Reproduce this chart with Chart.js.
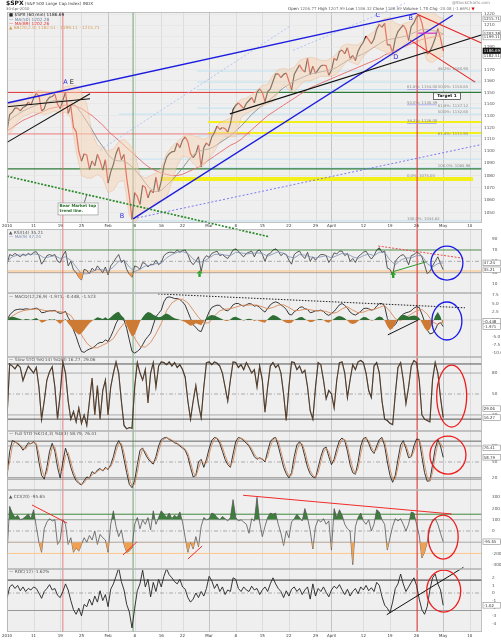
<!DOCTYPE html>
<html>
<head>
<meta charset="utf-8">
<title>$SPX 60 min</title>
<script src="https://cdn.jsdelivr.net/npm/chart.js@4/dist/chart.umd.min.js"></script>
<style>
html, body { margin: 0; padding: 0; background: #fff; }
#wrap { position: relative; width: 501px; height: 640px; overflow: hidden; font-family: "DejaVu Sans", Verdana, sans-serif; }
#spx { position: absolute; left: 0; top: 0; }
.t { position: absolute; white-space: nowrap; line-height: 1; color: #444; font-size: 4px; }
</style>
</head>
<body>
<div id="wrap">
<canvas id="spx" width="501" height="640"></canvas>
<div class="t" style="left:6px;top:0px;font-size:4.2px"><b style="font-size:6px;color:#111">$SPX</b> (S&amp;P 500 Large Cap Index) INDX</div>
<div class="t" style="left:6px;top:7px;color:#666;font-size:3.8px">30-Apr-2010</div>
<div class="t" style="left:288px;top:6.5px">Open <span style="color:#777">1206.77</span> High <span style="color:#777">1207.99</span> Low <span style="color:#777">1186.32</span> Close <span style="color:#777">1186.69</span> Volume <span style="color:#777">1.7B</span> Chg <span style="color:#777">-20.08 (-1.66%)</span> <span style="color:#d00">&#9660;</span></div>
<div class="t" style="left:452px;top:1px;color:#888">@StockCharts.com</div>
</div>
<script>
// time axis: trading-day index, 4 Jan 2010 = 0
const dateTicks = [0, 5, 10, 14, 19, 24, 29, 33, 38, 43, 48, 53, 58, 61, 67, 72, 77, 82, 87];
const dateLabels = ['2010', '11', '19', '25', 'Feb', '8', '16', '22', 'Mar', '8', '15', '22', '29', 'April', '12', '19', '26', 'May', '10'];
const monthLabels = ['2010', 'Feb', 'Mar', 'April', 'May'];

// 60 min price, two readings per day
const price = [1117,1131,1133,1136.5,1136.5,1134,1137,1138,1141.7,1139,
  1145,1149,1147,1134,1136,1143,1145.7,1146.5,1148.5,1140,
  1136,1143,1150.2,1132,1138,1120,1116.5,1100,1091.8,1098,
  1096.8,1085,1092,1088,1097.5,1092,1084.5,1093,1073.9,1083,
  1089.2,1098,1103.3,1093,1097.3,1078,1063.1,1045,1066.2,1063,
  1056.7,1072,1070.5,1062,1068.1,1066,1078.5,1067,1075.5,1088,
  1094.9,1098,1099.5,1100,1106.8,1103,1109.2,1112,1108,1098,
  1094.6,1098,1105.2,1087,1102.9,1107,1104.5,1112,1115.7,1121,
  1118.3,1120,1118.8,1116,1123,1135,1138.7,1141,1138.5,1136,
  1140.5,1143,1145.6,1141,1150.2,1153,1150,1142,1150.5,1153,
  1159.5,1166,1166.2,1163,1165.8,1167,1159.9,1152,1165.8,1170,
  1174.2,1170,1167.7,1180,1165.7,1173,1166.6,1170,1173.2,1174,
  1173.3,1165,1169.4,1180,1178.1,1186,1187.4,1184,1189.4,1180,
  1182.5,1178,1186.4,1191,1194.4,1200,1196.5,1193,1197.3,1206,
  1210.7,1208,1211.7,1192,1192.1,1185,1197.5,1204,1207.2,1210,
  1205.9,1196,1208.7,1212,1217.3,1219,1212,1200,1183.7,1186,
  1191.4,1198,1206.8,1198,1186.7];

// overlays, one reading per day
const ma50 = [1124,1128,1131,1134,1136,1138,1140,1141,1142,1143,
  1143,1143,1142,1138,1132,1125,1118,1110,1104,1097,
  1093,1092,1092,1089,1085,1080,1074,1069,1067,1068,
  1072,1076,1081,1086,1092,1097,1100,1101,1102,1104,
  1107,1110,1113,1117,1121,1126,1131,1135,1139,1142,
  1146,1150,1154,1157,1160,1162,1164,1166,1167,1168,
  1169,1170,1172,1175,1178,1180,1182,1184,1187,1190,
  1193,1196,1197,1198,1199,1200,1202,1204,1206,1206,
  1205,1204,1202];
const ma89 = [1117,1120,1123,1126,1128,1130,1132,1134,1136,1137,
  1138,1139,1139,1138,1136,1133,1130,1126,1122,1117,
  1113,1109,1105,1101,1097,1093,1089,1086,1084,1082,
  1081,1080,1080,1081,1083,1085,1087,1090,1093,1096,
  1099,1102,1105,1107,1110,1114,1118,1122,1126,1130,
  1133,1136,1139,1142,1145,1148,1151,1154,1156,1158,
  1160,1162,1164,1166,1168,1170,1172,1174,1176,1178,
  1180,1183,1185,1187,1189,1191,1193,1195,1197,1198,
  1199,1200,1202];
const bbUpper = [1140,1141,1142,1143,1146,1150,1152,1151,1150,1151,
  1152,1155,1156,1156,1150,1140,1115,1105,1103,1100,
  1102,1108,1110,1106,1100,1080,1078,1080,1082,1086,
  1098,1104,1108,1112,1114,1113,1112,1110,1112,1118,
  1124,1126,1128,1140,1144,1145,1148,1152,1156,1157,
  1165,1170,1171,1170,1172,1178,1180,1181,1180,1178,
  1178,1180,1184,1191,1193,1192,1192,1196,1201,1204,
  1213,1216,1217,1212,1210,1212,1213,1219,1222,1224,
  1222,1218,1216];
const bbLower = [1112,1118,1125,1129,1131,1133,1132,1131,1132,1134,
  1132,1133,1128,1100,1080,1078,1078,1081,1078,1066,
  1068,1075,1076,1048,1042,1048,1052,1054,1058,1060,
  1062,1075,1088,1096,1095,1090,1086,1088,1094,1100,
  1108,1112,1112,1112,1128,1132,1134,1136,1138,1140,
  1142,1150,1157,1152,1150,1156,1160,1160,1162,1164,
  1164,1164,1166,1172,1178,1176,1174,1182,1186,1190,
  1188,1186,1182,1183,1188,1194,1196,1198,1190,1178,
  1176,1180,1182];

// indicators, two readings per day unless noted
const rsi = [45,62,60,64,61,58,63,60,64,61,
  66,67,60,45,52,60,62,60,62,50,
  48,60,68,42,50,35,30,22,17,36,
  34,28,38,33,42,36,30,40,26,42,
  48,56,62,48,52,36,27,22,42,40,
  36,48,46,40,45,44,52,44,48,60,
  64,66,66,65,70,66,69,70,62,50,
  44,50,58,32,54,60,57,64,66,68,
  60,62,58,55,62,70,72,68,62,58,
  64,66,68,58,68,70,62,50,62,64,
  70,72,68,60,64,62,52,45,62,66,
  68,60,55,66,50,58,52,58,62,62,
  60,48,55,65,63,68,68,60,64,50,
  55,48,58,62,66,68,60,54,60,70,
  74,66,68,38,36,26,50,56,60,62,
  56,44,60,62,66,64,58,44,28,32,
  42,50,58,46,35.21];
const rsiMa = [50,58,61,61,62,63,62,56,58,60,
  55,58,52,40,28,28,32,36,35,33,
  40,50,52,40,32,36,42,43,46,47,
  56,62,66,67,64,54,48,50,56,62,
  63,61,60,66,65,63,64,65,64,59,
  63,67,64,58,56,62,61,58,56,58,
  60,56,60,64,63,58,55,60,63,60,
  66,66,52,44,52,56,56,60,60,46,
  40,46,47.24];
const macd = [0,1.5,2.4,3,3.2,3.3,3.2,3.4,3.3,3.2,
  3.4,3.6,3.2,2.2,2.3,2.6,2.8,2.8,2.9,2.3,
  2,2.2,2.6,0.8,-0.6,-3,-5,-7.5,-9.5,-9.8,
  -9.2,-8.8,-8.5,-8,-7.2,-6.8,-6.8,-6,-6.5,-5,
  -3.2,-1,0.4,0.2,0,-2.5,-6,-9.5,-10,-9.5,
  -8.8,-7.5,-6,-5,-4,-1.5,1,2,3,5.5,
  6.8,7,6.8,6.5,6.5,6.2,5.5,4.5,2.5,0.5,
  -1.5,-2.2,-3.2,-3.5,-1.5,0.5,2.5,3.8,4.2,4.5,
  4.4,3.6,3,2.8,3.5,4.6,5,5,4.5,4.2,
  4.6,5,4.8,4.2,4.4,3.8,3,2.4,3.5,4.6,
  5.2,5.5,5.2,4.6,4,3.2,1.8,1.5,2.5,3,
  3.8,4,3.4,3.2,2.2,2.4,2.8,2.8,3,2.6,
  1.8,1.4,2,2.6,3.6,4.6,5,4.4,3.6,2.4,
  1.8,1.5,2,2.6,3.4,3.6,3.4,3,3.2,4.2,
  5,5,4.2,0.5,-1,-2,-1.4,0,1,1.8,
  2.2,2.4,2.8,3.6,4,3.8,1.8,-0.5,-3,-4.2,
  -4,-3,-1.2,-0.8,-1.971];
const macdSignal = [0,1.2,2.2,2.8,3.1,3.3,3.3,2.9,2.7,2.7,
  2.5,2.3,1.4,-1,-4.5,-7,-8.4,-8.4,-7.6,-6.8,
  -5.6,-3,-1,-2.2,-5.5,-8,-8.2,-6.8,-4.2,-1,
  2.8,5.2,6.2,6.3,5.2,3,0.8,-1,-0.8,1.2,
  2.8,3.3,3.4,3.9,4.4,4.5,4.6,4.5,4,3.4,
  3.8,4.5,4.6,3.8,2.8,2.9,3.3,3.1,2.8,2.8,
  2.6,2,2.3,3.4,4,3,2.2,2.4,3,3.2,
  3.8,4.4,2.6,0.4,-0.2,0.8,1.8,2.8,3.2,1.8,
  -0.6,-1.4,-0.448];
const macdHist = [0,0.8,1,0.8,0.5,0.3,0,0.3,0.2,0,
  0.3,0.6,0,-0.8,-0.5,-0.1,0.2,0.1,0.2,-0.5,
  -1.2,-0.4,0.3,-1,-2,-3,-3.8,-4.5,-4,-3,
  -2,-1,-0.3,0.3,0.8,0.6,0.3,0.8,0.2,0.8,
  1.6,2.2,2.5,1.4,0.6,-1.5,-3.5,-5,-4.5,-2.5,
  -0.5,0.8,1.8,2.4,2.2,1.6,1.2,0.8,1,1.6,
  2,1.6,1,0.5,0.3,0.1,-0.3,-0.6,-1.2,-1.7,
  -1.5,-1,-1.3,-1.6,-0.4,0.6,1.2,1.5,1.4,1,
  0.6,0.2,-0.2,-0.3,0.2,0.8,1,0.6,0.2,-0.2,
  0.2,0.4,0.2,-0.3,0,-0.4,-0.6,-0.8,0.2,1,
  1.5,1.3,0.8,0.2,-0.4,-0.8,-1,-0.8,0,0.4,
  0.8,0.9,0.3,-0.2,-0.7,-0.5,-0.1,0.2,0.3,0,
  -0.6,-0.8,-0.2,0.4,1,1.2,1,0.5,-0.2,-1,
  -1.2,-1,-0.4,0.4,0.9,0.8,0.3,-0.2,0,0.7,
  1.1,0.8,-0.2,-2,-3,-2.6,-1,0.4,1.3,1.6,
  1.4,1,1.2,1.4,1.2,0.6,-0.8,-2.4,-3.4,-2.8,
  -1,1.2,2.4,1,-1.523];
const slowK = [16,93,90,86,92,88,69,80,90,85,
  80,88,60,14,40,70,82,89,60,14,
  50,96,80,40,14,25,10,30,8,20,
  5,40,73,20,62,14,55,70,20,60,
  80,96,80,40,5,0,2,1,60,95,
  80,70,85,37,80,95,60,90,96,95,
  92,96,90,95,88,92,85,74,40,14,
  40,62,35,16,60,95,96,92,96,94,
  90,80,60,40,70,96,95,88,92,85,
  95,88,80,85,60,90,70,24,60,90,
  95,88,92,80,50,12,60,96,95,85,
  90,80,84,60,26,14,60,95,92,70,
  43,55,50,30,70,95,96,80,45,70,
  92,85,96,98,95,80,55,45,90,95,
  80,40,14,12,8,6,50,88,95,70,
  36,60,90,98,95,70,20,14,12,10,
  70,95,80,45,16.27];
const fullK = [22,70,90,88,84,80,72,78,86,84,
  88,82,50,25,18,40,70,85,70,40,
  20,50,76,60,40,25,15,10,7,15,
  22,20,32,28,35,38,33,40,36,45,
  60,80,90,80,55,30,8,2,15,45,
  72,76,65,56,50,46,60,80,92,95,
  96,92,90,86,84,80,76,72,60,40,
  22,25,50,55,40,55,75,90,96,94,
  85,70,55,45,40,65,88,96,94,90,
  85,80,70,60,55,58,55,50,70,88,
  94,96,80,60,40,28,20,30,60,82,
  88,80,60,40,28,22,20,40,60,75,
  78,60,45,55,75,90,95,90,70,45,
  30,27,50,80,94,96,85,72,66,80,
  92,96,80,50,25,12,25,55,82,90,
  75,58,60,80,93,92,60,30,14,15,
  45,75,92,80,58.79];
const fullD = [30,50,80,88,86,82,76,74,82,85,
  86,85,66,38,22,30,55,78,78,55,
  30,35,62,68,50,32,20,12,8,11,
  18,21,26,30,32,36,35,37,38,41,
  52,70,85,85,68,42,18,5,8,30,
  58,74,70,60,53,48,53,70,86,93,
  95,94,91,88,85,82,78,74,66,50,
  31,23,38,52,48,48,65,82,93,95,
  90,78,62,50,42,52,76,92,95,92,
  88,82,75,65,58,56,56,52,60,79,
  91,95,88,70,50,34,24,25,45,71,
  85,84,70,50,34,25,21,30,50,68,
  76,69,52,50,65,82,92,92,80,58,
  38,28,38,65,87,95,90,78,69,73,
  86,94,88,65,38,18,18,40,68,86,
  82,66,59,70,86,92,76,45,22,14,
  30,60,84,86,76.41];
const cci = [-200,220,160,120,140,100,110,130,150,110,
  190,40,-100,-190,20,80,110,90,100,-120,
  -80,100,60,-120,-60,-190,-150,-180,-120,-60,
  -100,-40,-80,0,-120,-30,-60,-80,-190,60,
  180,40,-50,10,-120,-190,-180,-150,60,120,
  20,100,60,120,10,180,60,120,180,150,
  120,160,110,140,120,170,80,-60,-190,-100,
  -160,-50,-140,40,120,100,110,160,150,120,
  100,130,110,90,120,280,120,90,100,80,
  60,-20,110,90,300,80,-50,40,120,160,
  150,160,60,-20,-130,0,-60,80,110,150,
  120,90,200,120,0,-160,40,100,80,110,
  60,90,-170,200,120,190,140,60,20,0,
  -300,40,120,160,90,60,100,0,60,190,
  170,100,60,-170,-60,40,110,90,110,60,
  0,60,170,160,60,-40,-240,-190,-100,20,
  100,110,60,-20,-95.65];
const roc = [-0.7,0.8,1.1,0.6,1,0.3,0.8,0.2,0.6,0.4,
  0.8,0.6,0,-0.7,0.2,0.6,1.1,0.4,0.6,-0.3,
  -0.6,0.2,1.2,0.4,-1,-2.2,-2.8,-2,-3,-1.5,
  -1.8,-0.8,-1.6,-0.4,-1.2,0.3,-1,-0.2,-1.8,0.5,
  1.2,2.2,3.3,1.5,0.4,-1.5,-2.5,-4.6,-2,0.3,
  1.2,3,0.8,1.8,-0.5,1.4,0.2,1.8,0.8,2.2,
  3.2,2.4,2,1.5,1.2,1.8,0.8,0.5,-0.6,-1.2,
  -0.8,0,-0.6,0.2,-0.4,0.6,2.2,1.6,0.6,1.2,
  0.2,0.8,-0.2,0.4,0.2,2,1.8,0.6,0.2,0.8,
  0.4,0.2,0.9,0.4,0.6,-0.2,0.4,0.8,0.2,1.2,
  2,1.2,0.6,0.2,-0.6,0.3,-0.4,0.5,0.8,0.2,
  0.6,-0.2,0.4,0.8,-0.8,1.2,-0.4,0.6,0.2,0.8,
  0.1,-0.5,0.4,0.9,0.6,1.1,0.4,-0.2,0.5,-0.4,
  0.2,0.6,-0.1,0.8,0.4,1,0.3,0.7,0.2,1.4,
  1,-0.5,-1.6,-2,-2.6,-1.2,0.6,1.2,2.5,1.2,
  0.2,0.8,1.4,2,1,-0.8,-2.2,-2.8,-1.8,0.4,
  2,2.5,1.2,0.4,-1.62];

// axis ticks
const priceTicks = [1050,1060,1070,1080,1090,1100,1110,1120,1130,1140,1150,1160,1170,1180,1190,1200,1210,1220];
const rsiTicks = [10, 30, 50, 70, 90];
const macdTicks = [-10, -7.5, -5, -2.5, 0, 2.5, 5, 7.5];
const stoTicks = [20, 50, 80];
const cciTicks = [-300, -200, -100, 0, 100, 200, 300];
const rocTicks = [-4, -3, -2, -1, 0, 1, 2];

// reference levels per panel
const rsiLevels = [70, 50, 33, 30];
const macdLevels = [0];
const slowLevels = [93, 80, 50, 20, 14];
const fullLevels = [89, 80, 50, 21, 18];
const cciLevels = [150, 100, 0, -100, -200];
const rocLevels = [1.7, 0, -2.3];

// main panel drawings: [day, price]
const blueTrend = [[[0, 1140.8], [77.1, 1221]], [[23.7, 1045.3], [83.8, 1219]]];
const blueChannel = [[[23.7, 1045.3], [89.3, 1105.7]]];
const lightBlueTrend = [[[17.5, 1100.9], [53.2, 1209]], [[53.8, 1187.2], [74.8, 1230]]];
const blackTrend = [[[0, 1107.4], [15.6, 1148.8]], [[0, 1137.6], [15.6, 1144.5]], [[41.9, 1131.5], [89.3, 1201.2]]];
const redTrend = [[[77.1, 1220], [89.3, 1193.5]], [[75.8, 1196.3], [88, 1159]]];
const bearTrend = [[0, 1079.5], [49.1, 1031.4]];
const bearPointer = [[14.5, 1057.9], [15, 1064.4]];
const maMarker = [[77.3, 1202.6], [80.8, 1202.6]];
const redLevels = [[1150, 0, 47], [1114.5, 0, 45.7]];
const greenLevels = [[1150, 47, 89.3], [1085.4, 0, 89.3]];
const yellowLevels = [[1124.6, 37.8, 89.3], [1115.3, 37.8, 89.3]];
const yellowBand = [1077.3, 28.8, 87.6];
const fibLines = [[1168.7, 35.7], [1159, 35.7], [1152.5, 35.7], [1136.4, 35.7], [1131.3, 21], [1112.8, 35.7], [1093.5, 23], [1086.2, 35.7], [1043.7, 23.7]];
const fibLabels = [
  ['38.2%: 1160.90', 1168.7, 81], ['61.8%: 1154.00', 1152.5, 75.2], ['50.0%: 1150.65', 1152.5, 81],
  ['50.0%: 1140.39', 1139.3, 75.2], ['61.8%: 1137.12', 1136.4, 81], ['50.0%: 1132.60', 1131.3, 81],
  ['38.2%: 1126.00', 1123.3, 75.2], ['61.8%: 1111.95', 1112.8, 81], ['100.0%: 1085.98', 1086.2, 81],
  ['0.0%: 1075.00', 1078, 75.2], ['100.0%: 1044.82', 1043.7, 75.2]];
const fibUnderlines = [1152.5, 1139.3, 1123.3];
const waveLabels = [['A', 11.0, 1158.4], ['E', 12.2, 1158.4], ['B', 21.6, 1047], ['C', 69.7, 1219], ['B', 75.9, 1216.6], ['D', 73.1, 1181]];
const targetBox = ['Target 1', 82.7, 1146.8];
const bearNote = [['Bear Market top', 'trend line.'], 9.6, 1057.9];
const markerDays = [10.5, 23.7, 77.1];

// indicator drawings: [day, value]
const rsiRedTrend = [[69.8, 77], [85.8, 55.4]];
const rsiGreenTrend = [[72.6, 31.8], [78.9, 49.4]];
const rsiArrows = [[36.2, 34], [72.6, 32]];
const macdDotted = [[28.4, 7.9], [86.1, 3.7]];
const macdSupport = [[71.6, -4.5], [77.3, 0]];
const cciRedTrends = [[[4.7, 232], [11.3, 71]], [[21.8, -214], [24.4, -98]], [[34, -250], [36.7, -134]], [[44.4, 319], [83.6, 152]]];
const rocSupport = [[71.4, -2.85], [85.8, 3.38]];
const circleCenters = { rsi: [82.7, 47], macd: [82.7, -0.3], slow: [83.6, 47], full: [82.9, 63], cci: [82, -54], roc: [82.1, 0.26] };

// right-axis value flags
const priceFlags = [1215.71, 1202.28, 1199.11, 1182.51];
const closeFlag = 1186.69;
const rsiFlags = [47.24, 35.21];
const macdFlags = [-0.448, -1.971];
const slowFlags = [29.06, 16.27];
const fullFlags = [76.41, 58.79];
const cciFlags = [-95.65];
const rocFlags = [-1.62];

const FONTNAME = '"DejaVu Sans", Verdana, sans-serif';
const panelIds = ['y', 'rsi', 'macd', 'slow', 'full', 'cci', 'roc'];

function font(size, bold) { return (bold ? 'bold ' : '') + size + 'px ' + FONTNAME; }
function line(ctx, x0, y0, x1, y1) { ctx.beginPath(); ctx.moveTo(x0, y0); ctx.lineTo(x1, y1); ctx.stroke(); }
function pts(arr, step) { return arr.map((v, i) => ({ x: i * step, y: v })); }

const overlay = {
    id: 'overlay',
    beforeDraw(chart) {
        const { ctx, chartArea: a, scales } = chart;
        const X = scales.x;
        ctx.save();
        panelIds.forEach(id => {
            const s = scales[id];
            ctx.fillStyle = '#efefef';
            ctx.fillRect(a.left, s.top, a.right - a.left, s.bottom - s.top);
            ctx.lineWidth = 1;
            dateTicks.forEach((d, i) => {
                const x = Math.round(X.getPixelForValue(d)) + 0.5;
                ctx.strokeStyle = monthLabels.includes(dateLabels[i]) ? '#c4c4c4' : '#dcdcdc';
                line(ctx, x, s.top, x, s.bottom);
            });
        });
        ctx.restore();
    },
    beforeDatasetsDraw(chart) {
        const { ctx, chartArea: a, scales } = chart;
        const X = scales.x;
        const hline = (id, v, d0, d1, color, w, dash) => {
            const y = scales[id].getPixelForValue(v);
            ctx.strokeStyle = color; ctx.lineWidth = w; ctx.setLineDash(dash || []);
            line(ctx, X.getPixelForValue(d0), y, X.getPixelForValue(d1), y);
        };
        const DD = [4, 2, 1, 2];
        ctx.save();
        fibLines.forEach(([p, d0]) => hline('y', p, d0, X.max, '#bfe2ef', 1));
        yellowLevels.forEach(([p, d0, d1]) => hline('y', p, d0, d1, '#f3ef1a', 2));
        hline('y', yellowBand[0], yellowBand[1], yellowBand[2], '#f3ef1a', 4);
        redLevels.forEach(([p, d0, d1], i) => hline('y', p, d0, d1, i ? '#ef7b7b' : '#e23434', 1));
        greenLevels.forEach(([p, d0, d1]) => hline('y', p, d0, d1, '#2e7b3a', 1.2));

        rsiLevels.forEach((v, i) => hline('rsi', v, X.min, X.max, ['#4d8f4d', '#8c8c8c', '#ffbd7a', '#a8a8a8'][i], i === 1 ? 0.7 : 1, i === 1 ? DD : null));
        macdLevels.forEach(v => hline('macd', v, X.min, X.max, '#c8c8c8', 0.7));
        slowLevels.forEach((v, i) => hline('slow', v, X.min, X.max, ['#555', '#aaa', '#8c8c8c', '#aaa', '#555'][i], i === 2 ? 0.7 : 1, i === 2 ? DD : null));
        fullLevels.forEach((v, i) => hline('full', v, X.min, X.max, ['#666', '#aaa', '#8c8c8c', '#aaa', '#888'][i], i === 2 ? 0.7 : 1, i === 2 ? DD : null));
        cciLevels.forEach((v, i) => hline('cci', v, X.min, X.max, ['#3f8a3f', '#aaa', '#8c8c8c', '#aaa', '#ffc58a'][i], i === 2 ? 0.7 : 1, i === 2 ? DD : null));
        rocLevels.forEach((v, i) => hline('roc', v, X.min, X.max, ['#333', '#8c8c8c', '#999'][i], i === 1 ? 0.7 : 1, i === 1 ? DD : null));

        ctx.setLineDash([]);
        ctx.lineWidth = 1;
        markerDays.forEach((d, i) => {
            const x = X.getPixelForValue(d);
            ctx.strokeStyle = ['rgba(232,110,110,0.85)', 'rgba(90,150,90,0.85)', '#e32b2b'][i];
            line(ctx, x, i === 2 ? a.top + 3 : a.top, x, a.bottom);
        });
        ctx.restore();
    },
    afterDatasetsDraw(chart) {
        const { ctx, scales } = chart;
        const X = scales.x;
        const P = (id, pt) => [X.getPixelForValue(pt[0]), scales[id].getPixelForValue(pt[1])];
        const trend = (id, pair, color, w, dash) => {
            const p0 = P(id, pair[0]), p1 = P(id, pair[1]);
            ctx.strokeStyle = color; ctx.lineWidth = w; ctx.setLineDash(dash || []);
            line(ctx, p0[0], p0[1], p1[0], p1[1]);
        };
        ctx.save();
        lightBlueTrend.forEach(l => trend('y', l, '#a9bff5', 0.9, [2, 2]));
        blueChannel.forEach(l => trend('y', l, '#6d6df0', 0.9, [2, 2]));
        blueTrend.forEach(l => trend('y', l, '#1c1ce0', 1.4));
        blackTrend.forEach(l => trend('y', l, '#111', 1.1));
        redTrend.forEach(l => trend('y', l, '#e62222', 1.1));
        trend('y', maMarker, '#cc33cc', 1.2);
        trend('y', bearTrend, '#2a8a2a', 1.7, [2, 1.5]);
        trend('y', bearPointer, '#222', 0.6);

        // fib labels
        ctx.setLineDash([]);
        ctx.font = font(3.8); ctx.fillStyle = '#8a8a8a'; ctx.textAlign = 'left'; ctx.textBaseline = 'bottom';
        fibLabels.forEach(([t, p, d]) => { const q = P('y', [d, p]); ctx.fillText(t, q[0], q[1] - 0.3); });
        ctx.strokeStyle = '#9f9fe6'; ctx.lineWidth = 0.8;
        fibUnderlines.forEach(p => { const q0 = P('y', [75.2, p]), q1 = P('y', [80.8, p]); line(ctx, q0[0], q0[1], q1[0], q1[1]); });

        // wave letters
        ctx.font = font(6.5); ctx.textAlign = 'center'; ctx.textBaseline = 'middle';
        waveLabels.forEach(([t, d, p]) => { const q = P('y', [d, p]); ctx.fillStyle = t === 'E' ? '#111' : '#2a2ae0'; ctx.fillText(t, q[0], q[1]); });

        // target box
        const tq = P('y', [targetBox[1], targetBox[2]]);
        ctx.fillStyle = '#fff'; ctx.fillRect(tq[0] - 13.5, tq[1] - 3.3, 27, 6.6);
        ctx.strokeStyle = '#333'; ctx.lineWidth = 0.7; ctx.strokeRect(tq[0] - 13.5, tq[1] - 3.3, 27, 6.6);
        ctx.fillStyle = '#111'; ctx.font = font(4.2, true); ctx.fillText(targetBox[0], tq[0], tq[1] + 0.2);

        // bear market note
        const bq = P('y', [bearNote[1], bearNote[2]]);
        ctx.fillStyle = '#fff'; ctx.fillRect(bq[0], bq[1], 40, 12);
        ctx.strokeStyle = '#999'; ctx.lineWidth = 0.7; ctx.strokeRect(bq[0], bq[1], 40, 12);
        ctx.fillStyle = '#2a6a2a'; ctx.font = font(4, true); ctx.textAlign = 'left';
        ctx.fillText(bearNote[0][0], bq[0] + 1.5, bq[1] + 3.3);
        ctx.fillText(bearNote[0][1], bq[0] + 1.5, bq[1] + 8.3);

        // indicator drawings
        trend('rsi', rsiRedTrend, '#f04a4a', 1, [2, 1.5]);
        trend('rsi', rsiGreenTrend, '#2e9a2e', 1);
        ctx.setLineDash([]);
        ctx.fillStyle = '#22a022';
        rsiArrows.forEach(pt => {
            const q = P('rsi', pt);
            ctx.beginPath(); ctx.moveTo(q[0], q[1]); ctx.lineTo(q[0] - 3, q[1] + 3.2); ctx.lineTo(q[0] + 3, q[1] + 3.2); ctx.closePath(); ctx.fill();
            ctx.fillRect(q[0] - 1.2, q[1] + 3.2, 2.4, 3.2);
        });
        trend('macd', macdDotted, '#222', 1, [1.5, 1.5]);
        trend('macd', macdSupport, '#111', 1);
        cciRedTrends.forEach(l => trend('cci', l, '#f02c2c', 1));
        trend('roc', rocSupport, '#111', 1);

        ctx.setLineDash([]);
        ctx.lineWidth = 1.3;
        const radii = { rsi: [16, 17], macd: [15, 19], slow: [15, 31], full: [18, 19], cci: [15, 22], roc: [17, 21] };
        Object.keys(circleCenters).forEach(id => {
            const q = P(id, circleCenters[id]);
            ctx.strokeStyle = (id === 'rsi' || id === 'macd') ? '#1a1ae8' : '#ee1c1c';
            ctx.beginPath(); ctx.ellipse(q[0], q[1], radii[id][0], radii[id][1], 0, 0, Math.PI * 2); ctx.stroke();
        });
        ctx.restore();
    },
    afterDraw(chart) {
        const { ctx, chartArea: a, scales } = chart;
        const X = scales.x;
        ctx.save();
        // panel frames
        ctx.strokeStyle = '#b4b4b4'; ctx.lineWidth = 0.8;
        panelIds.forEach(id => { const s = scales[id]; ctx.strokeRect(a.left + 0.4, s.top + 0.4, a.right - a.left - 0.8, s.bottom - s.top - 0.8); });

        // date rows
        ctx.font = font(4); ctx.fillStyle = '#333'; ctx.textAlign = 'center'; ctx.textBaseline = 'middle';
        const gap = scales.gap;
        dateTicks.forEach((d, i) => {
            const x = Math.max(X.getPixelForValue(d), 6.5);
            ctx.fillText(dateLabels[i], x, (gap.top + gap.bottom) / 2 + 0.3);
            ctx.fillText(dateLabels[i], x, a.bottom + 4.3);
        });

        // value flags on the right axis
        const flag = (id, v, txt, dark) => {
            const y = scales[id].getPixelForValue(v);
            const x0 = a.right + 1, w = 17.5, h = 5.6;
            ctx.fillStyle = dark ? '#111' : '#fff';
            ctx.fillRect(x0, y - h / 2, w, h);
            ctx.strokeStyle = dark ? '#111' : '#8a8a8a'; ctx.lineWidth = 0.6;
            ctx.strokeRect(x0, y - h / 2, w, h);
            ctx.fillStyle = dark ? '#fff' : '#333'; ctx.font = font(3.9); ctx.textAlign = 'left'; ctx.textBaseline = 'middle';
            ctx.fillText(txt, x0 + 0.8, y + 0.2);
        };
        priceFlags.forEach(v => flag('y', v, v.toFixed(2)));
        flag('y', closeFlag, closeFlag.toFixed(2), true);
        rsiFlags.forEach(v => flag('rsi', v, v.toFixed(2)));
        macdFlags.forEach(v => flag('macd', v, v.toFixed(3)));
        slowFlags.forEach(v => flag('slow', v, v.toFixed(2)));
        fullFlags.forEach(v => flag('full', v, v.toFixed(2)));
        cciFlags.forEach(v => flag('cci', v, v.toFixed(2)));
        rocFlags.forEach(v => flag('roc', v, v.toFixed(2)));

        // panel legends
        const legend = (id, dy, txt, color) => {
            ctx.font = font(4.3); ctx.fillStyle = color || '#555'; ctx.textAlign = 'left'; ctx.textBaseline = 'middle';
            ctx.fillText(txt, a.left + 2, scales[id].top + dy);
        };
        legend('y', 3.2, '\u25A0 $SPX (60 min) 1186.69', '#222');
        legend('y', 7.4, '\u2014 MA(50) 1202.28', '#6f7f9c');
        legend('y', 11.6, '\u2014 MA(89) 1202.26', '#e03030');
        legend('y', 15.8, '\u25B2 BB(20,2.0) 1182.51 - 1199.11 - 1215.71', '#d49a5a');
        legend('rsi', 4, '\u25B2 RSI(14) 35.21');
        legend('rsi', 8.2, '\u2014 MA(9) 47.24', '#7d8db0');
        legend('macd', 4, '\u2014 MACD(12,26,9) -1.971, -0.448, -1.523');
        legend('slow', 3, '\u2014 Slow STO %K(14) %D(3) 16.27, 29.06');
        legend('full', 3, '\u2014 Full STO %K(14,3) %D(3) 58.79, 76.41');
        legend('cci', 7, '\u25B2 CCI(20) -95.65');
        legend('roc', 3, '\u2014 ROC(12) -1.62%');
        ctx.restore();
    }
};

let order = 0;
function axis(weight, min, max, ticks, fmt, extra) {
    order++;
    return Object.assign({
        type: 'linear', position: 'right', stack: 'panes', stackWeight: weight, weight: order,
        min: min, max: max,
        afterBuildTicks: s => { s.ticks = ticks.map(v => ({ value: v })); },
        afterFit: s => { s.width = 19; },
        ticks: { callback: fmt, font: { size: 4.2, family: FONTNAME }, color: '#555', padding: 2, autoSkip: false },
        grid: { display: false },
        border: { display: false }
    }, extra || {});
}

const fillOnly = { borderColor: 'transparent', borderWidth: 1 };

new Chart(document.getElementById('spx'), {
    type: 'line',
    data: {
        datasets: [
            { data: pts(bbUpper, 1), yAxisID: 'y', borderColor: 'rgba(226,168,120,0.55)', borderWidth: 0.6, fill: false },
            { data: pts(bbLower, 1), yAxisID: 'y', borderColor: 'rgba(226,168,120,0.55)', borderWidth: 0.6, fill: '-1', backgroundColor: 'rgba(247,212,180,0.5)' },
            { data: pts(ma89, 1), yAxisID: 'y', borderColor: '#e76a6a', borderWidth: 0.9 },
            { data: pts(ma50, 1), yAxisID: 'y', borderColor: '#8a8a8a', borderWidth: 0.9 },
            { data: pts(price, 0.5), yAxisID: 'y', borderWidth: 1.2, borderColor: '#111',
              segment: { borderColor: c => c.p1.parsed.y < c.p0.parsed.y ? '#d81010' : '#111' } },

            Object.assign({ data: pts(rsi, 0.5), yAxisID: 'rsi', fill: { target: { value: 30 }, above: 'transparent', below: '#f39a4a' } }, fillOnly),
            { data: pts(rsiMa, 1), yAxisID: 'rsi', borderColor: '#7d8db0', borderWidth: 0.8 },
            { data: pts(rsi, 0.5), yAxisID: 'rsi', borderColor: '#333', borderWidth: 0.8, fill: { target: { value: 70 }, above: '#3c7f3c', below: 'transparent' } },

            Object.assign({ data: pts(macdHist, 0.5), yAxisID: 'macd', fill: { target: { value: 0 }, above: '#2f6e34', below: '#cd7a35' } }, fillOnly),
            { data: pts(macdSignal, 1), yAxisID: 'macd', borderColor: '#d98a5a', borderWidth: 0.9 },
            { data: pts(macd, 0.5), yAxisID: 'macd', borderColor: '#222', borderWidth: 0.9 },

            { data: pts(slowK, 0.5), yAxisID: 'slow', borderColor: 'rgba(201,134,79,0.6)', borderWidth: 0.6 },
            { data: pts(slowK, 0.5), yAxisID: 'slow', borderColor: '#141414', borderWidth: 1.1 },

            { data: pts(fullD, 0.5), yAxisID: 'full', borderColor: '#d08a5c', borderWidth: 0.9 },
            { data: pts(fullK, 0.5), yAxisID: 'full', borderColor: '#222', borderWidth: 0.9 },

            Object.assign({ data: pts(cci, 0.5), yAxisID: 'cci', fill: { target: { value: -100 }, above: 'transparent', below: '#f0a050' } }, fillOnly),
            { data: pts(cci, 0.5), yAxisID: 'cci', borderColor: '#555', borderWidth: 0.8, fill: { target: { value: 100 }, above: '#3c7f3c', below: 'transparent' } },

            { data: pts(roc, 0.5), yAxisID: 'roc', borderColor: '#222', borderWidth: 0.9 }
        ]
    },
    options: {
        responsive: false,
        animation: false,
        devicePixelRatio: 1,
        layout: { padding: { top: 12, left: 7, right: 0, bottom: 8 } },
        elements: { point: { radius: 0 }, line: { tension: 0 } },
        plugins: { legend: { display: false }, tooltip: { enabled: false } },
        scales: {
            x: { type: 'linear', min: 0, max: 89.3, display: false },
            y: axis(211, 1042, 1222, priceTicks, v => String(v),
                { type: 'logarithmic', grid: { display: true, drawTicks: false, color: '#e3e3e3', lineWidth: 0.6 } }),
            gap: axis(6, 0, 1, [], v => '', { ticks: { display: false } }),
            rsi: axis(64, -5.8, 107, rsiTicks, v => String(v)),
            macd: axis(64, -11.2, 8.18, macdTicks, v => v.toFixed(1)),
            slow: axis(74, -3, 103, stoTicks, v => String(v)),
            full: axis(59, -2.4, 108, stoTicks, v => String(v)),
            cci: axis(79, -339, 366, cciTicks, v => String(v)),
            roc: axis(63, -5.13, 3.16, rocTicks, v => String(v))
        }
    },
    plugins: [overlay]
});
</script>
</body>
</html>
